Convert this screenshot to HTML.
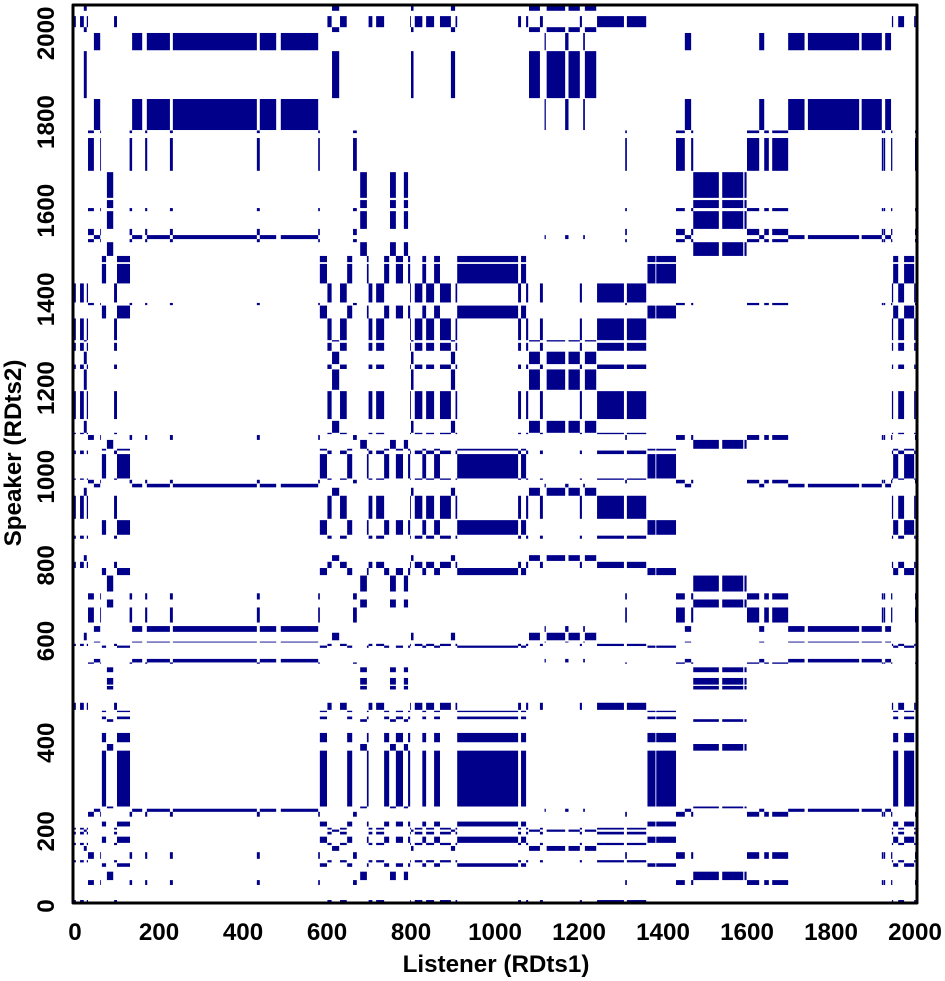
<!DOCTYPE html>
<html lang="en">
<head>
<meta charset="utf-8">
<title>Cross recurrence plot: Speaker vs Listener</title>
<style>
  html, body { margin: 0; padding: 0; background: #fff; }
  svg { display: block; }
  text { font-family: "Liberation Sans", Arial, sans-serif; font-weight: bold; font-size: 24.2px; fill: #000; }
</style>
</head>
<body>
<svg id="chart" xmlns="http://www.w3.org/2000/svg" width="945" height="981" viewBox="0 0 945 981">
  <defs>
    <clipPath id="plot-clip"><rect x="73" y="5" width="844" height="898"></rect></clipPath>
  </defs>
  <rect x="0" y="0" width="945" height="981" fill="#fff"></rect>
  <g id="marks" clip-path="url(#plot-clip)"></g>
  <rect x="73" y="5" width="844" height="898" fill="none" stroke="#000" stroke-width="3" stroke-linejoin="round"></rect>
  <g id="x-ticks"></g>
  <g id="y-ticks"></g>
  <text x="496" y="972" text-anchor="middle">Listener (RDts1)</text>
  <text transform="translate(21,453) rotate(-90)" text-anchor="middle">Speaker (RDts2)</text>
</svg>
<script>
// Tick labels
const xTickValues = [0, 200, 400, 600, 800, 1000, 1200, 1400, 1600, 1800, 2000];
const yTickValues = [0, 200, 400, 600, 800, 1000, 1200, 1400, 1600, 1800, 2000];

// Listener time runs (start, end) spent in each recurrent state
const listenerA = [[45,60],[136,160],[171,226],[233,433],[440,479],[490,579],[1118,1121],[1167,1175],[1210,1214],[1452,1467],[1629,1641],[1698,1737],[1745,1867],[1873,1921],[1929,1943]];
const listenerB = [[21,28],[612,629],[800,806],[895,905],[1081,1107],[1123,1167],[1175,1202],[1214,1241]];
const listenerC = [[-2,2],[12,21],[28,31],[93,100],[601,611],[631,647],[699,708],[717,736],[798,800],[809,827],[836,855],[869,895],[906,910],[1055,1062],[1074,1079],[1107,1114],[1202,1207],[1243,1307],[1314,1360],[1945,1948],[1960,1974],[1998,2001]];
const listenerD = [[64,74],[100,131],[583,600],[648,660],[695,699],[736,748],[764,781],[793,798],[827,836],[855,869],[910,1055],[1062,1074],[1363,1382],[1384,1431],[1948,1960],[1974,1998]];
const listenerE = [[76,91],[679,695],[750,764],[783,793],[1472,1533],[1541,1591],[1594,1599]];
const listenerF = [[31,45],[60,62],[130,136],[167,172],[226,233],[433,440],[579,583],[662,671],[1310,1314],[1431,1452],[1467,1472],[1600,1629],[1641,1652],[1660,1698],[1921,1925],[1926,1929],[1943,1946],[2000,2005]];

// Speaker time runs (start, end) spent in each recurrent state
const speakerA = [[1962,2001],[1782,1852],[1536,1545],[976,984],[650,663],[626,628],[581,589],[244,251]];
const speakerB = [[2051,2064],[2003,2014],[1854,1960],[1305,1308],[1254,1282],[1196,1242],[1099,1126],[957,975],[810,823],[631,648],[199,204],[156,167]];
const speakerC = [[2014,2039],[1393,1436],[1308,1357],[1284,1302],[1243,1253],[1130,1193],[1096,1099],[1051,1059],[993,996],[905,957],[860,867],[794,808],[618,623],[474,490],[204,208],[193,199],[169,174],[130,135],[39,45]];
const speakerD = [[1484,1498],[1436,1480],[1357,1386],[1059,1063],[996,1051],[869,902],[778,794],[614,619],[469,472],[453,459],[401,422],[256,382],[211,222],[174,188],[120,128]];
const speakerE = [[1629,1687],[1606,1624],[1559,1599],[1498,1529],[1063,1083],[741,777],[705,723],[559,570],[531,546],[520,528],[447,453],[382,397],[252,256],[90,109]];
const speakerF = [[1775,1781],[1690,1764],[1599,1606],[1545,1559],[1529,1536],[1387,1392],[1083,1094],[985,993],[723,737],[671,705],[578,581],[233,244],[138,153],[79,90]];

const stateNames = ['a', 'b', 'c', 'd', 'e', 'f'];
const listenerByState = [listenerA, listenerB, listenerC, listenerD, listenerE, listenerF];
const speakerByState = [speakerA, speakerB, speakerC, speakerD, speakerE, speakerF];

const NS = 'http://www.w3.org/2000/svg';
function xScale(v) { return 75 + 0.42 * v; }
function yScale(v) { return 920 - 0.4433 * v; }
// Two y labels sit off the scale in the reference: 0 is pulled inside, 600 is shifted up.
function yLabelPosition(v) {
  if (v === 600) { return yScale(v) - 13; }
  return Math.min(yScale(v), 906);
}

const marks = document.getElementById('marks');
stateNames.forEach(function (state, s) {
  listenerByState[s].forEach(function (lr) {
    speakerByState[s].forEach(function (sr) {
      const el = document.createElementNS(NS, 'rect');
      
      
      el.setAttribute('x', xScale(lr[0]).toFixed(2));
      el.setAttribute('y', yScale(sr[1]).toFixed(2));
      el.setAttribute('width', (xScale(lr[1]) - xScale(lr[0])).toFixed(2));
      el.setAttribute('height', (yScale(sr[0]) - yScale(sr[1])).toFixed(2));
      el.setAttribute('fill', '#00008b');
      marks.appendChild(el);
    });
  });
});

const xTicks = document.getElementById('x-ticks');
xTickValues.forEach(function (v) {
  const el = document.createElementNS(NS, 'text');
  
  
  el.setAttribute('x', xScale(v));
  el.setAttribute('y', 940);
  el.setAttribute('text-anchor', 'middle');
  el.textContent = v;
  xTicks.appendChild(el);
});

const yTicks = document.getElementById('y-ticks');
yTickValues.forEach(function (v) {
  const el = document.createElementNS(NS, 'text');
  
  
  el.setAttribute('transform', 'translate(54,' + yLabelPosition(v) + ') rotate(-90)');
  el.setAttribute('text-anchor', 'middle');
  el.textContent = v;
  yTicks.appendChild(el);
});
</script>
</body>
</html>
